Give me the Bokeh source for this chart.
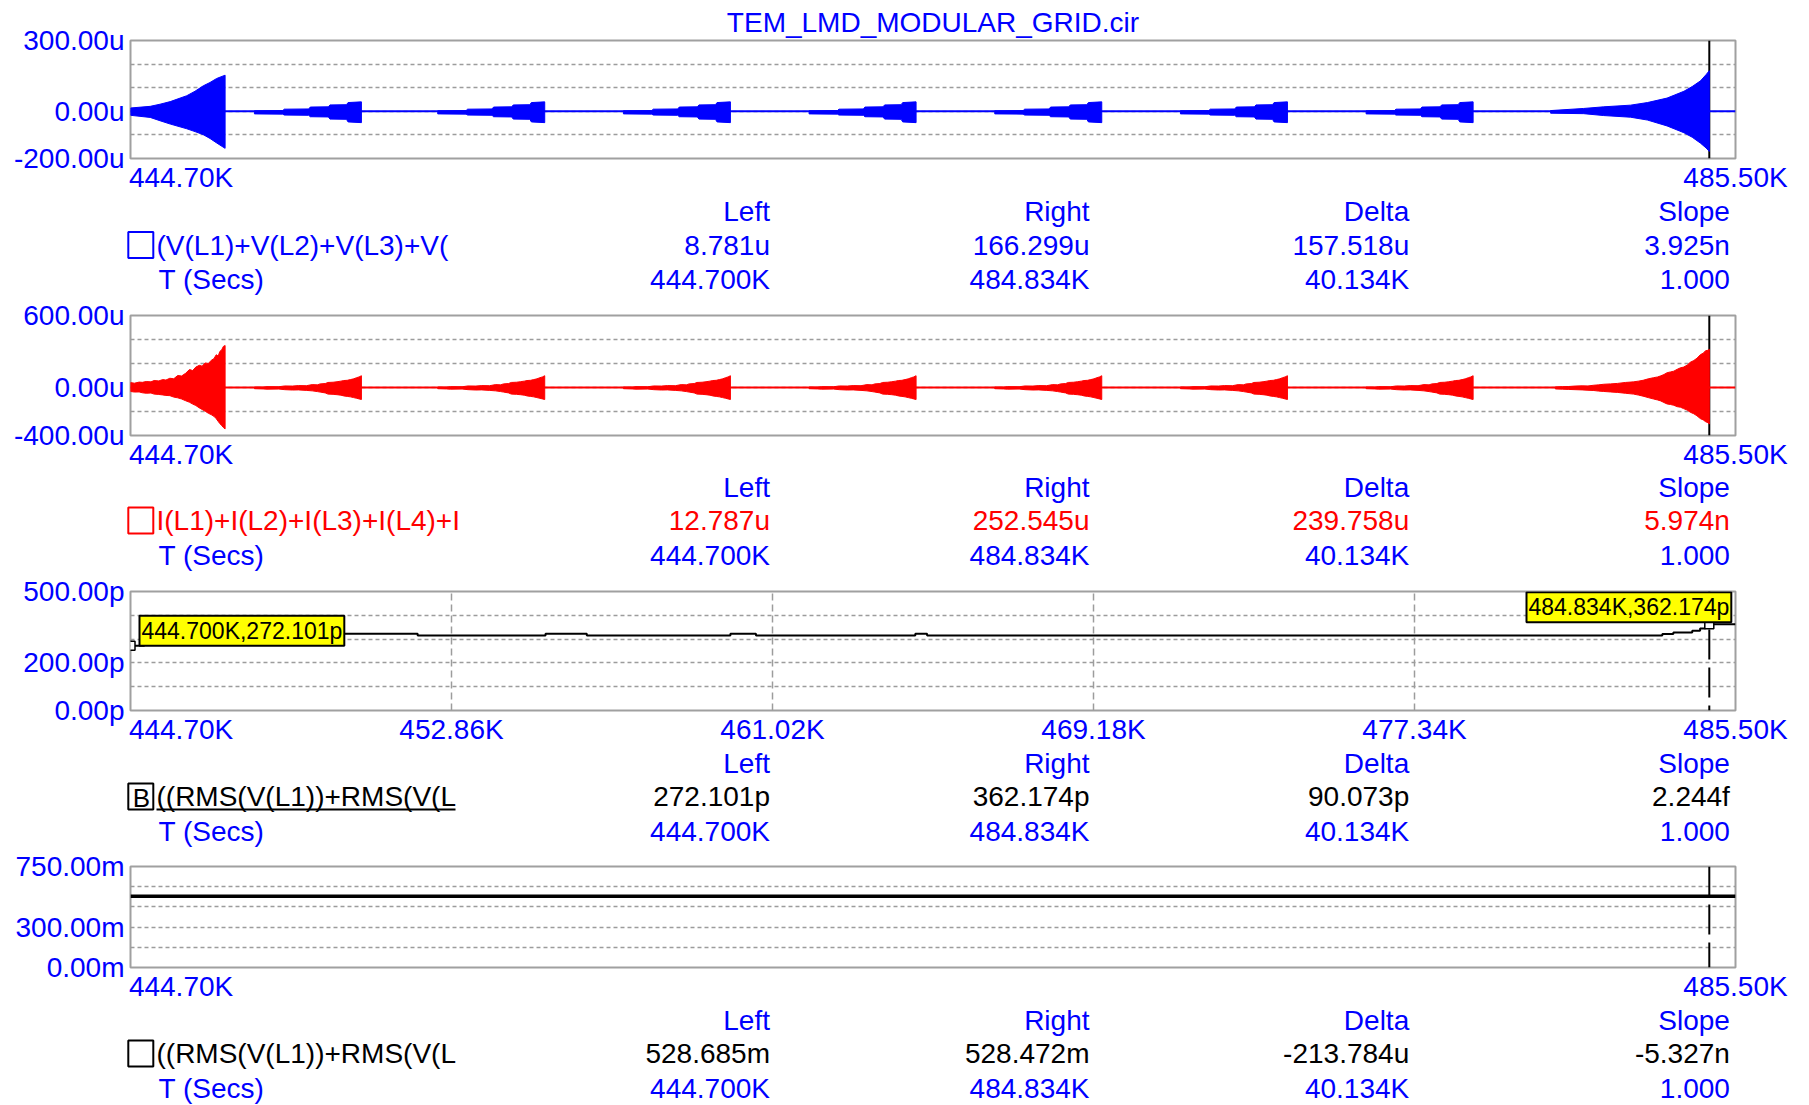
from bokeh.plotting import figure
from bokeh.layouts import column
from bokeh.models import (Range1d, FixedTicker, PrintfTickFormatter,
                          CustomJSTickFormatter, Span, Label)
from bokeh.core.properties import value
from bokeh.embed import file_html
from bokeh.resources import INLINE

FONT = "Liberation Sans"
BLUE = "#0000FF"
RED = "#FF0000"
BLACK = "#000000"
FRAME = "#A0A0A0"
GRID = "#9C9C9C"

# ---------------- time axis (K) ----------------
T_START = 444.70
T_END = 485.50
CURSOR_RIGHT = 484.834
X_TICKS = [444.70, 485.50]
X_TICKS_FULL = [444.70, 452.86, 461.02, 469.18, 477.34, 485.50]
X_GRID_FULL = [452.86, 461.02, 469.18, 477.34]

# end times of the small repeated bursts (both oscillating traces)
BURST_ENDS = [450.57, 455.23, 459.95, 464.67, 469.39, 474.11, 478.83]

# ---------------- panel 1: V(L1)+V(L2)+... envelope (u) ----------------
V_BASE_T = [T_START, T_END]
V_BASE = [0.0, 0.0]
V_FIRST_T = [444.70, 445.20, 445.45, 445.71, 446.13, 446.34, 446.55, 446.72, 446.89, 447.105]
V_FIRST_UP = [14, 21, 30, 41, 66, 85, 108, 122, 139, 153]
V_FIRST_DN = [-17, -26, -40, -54, -74, -86, -99, -115, -134, -157]
# staircase of each small burst: offsets before the burst end, levels per step
V_STEP_DT = [-2.72, -1.96, -1.30, -0.80, -0.34, 0.0]
V_STEP_UP = [2, 9, 18, 27, 37]
V_STEP_DN = [-11, -16, -23, -33, -45]
V_LAST_T = [480.80, 481.64, 482.15, 482.83, 483.26, 483.76, 484.19, 484.40, 484.61, 484.75, 484.834]
V_LAST_UP = [3, 12, 19, 26, 37, 56, 85, 105, 129, 155, 172]
V_LAST_DN = [-8, -10, -18, -25, -37, -62, -91, -110, -135, -155, -170]

# ---------------- panel 2: I(L1)+I(L2)+... envelope (u) ----------------
I_BASE_T = [T_START, T_END]
I_BASE = [0.0, 0.0]
I_FIRST_T = [444.70, 444.80, 444.92, 445.00, 445.10, 445.22, 445.30, 445.42, 445.52, 445.60,
             445.70, 445.80, 445.90, 446.00, 446.10, 446.20, 446.28, 446.36, 446.45, 446.52,
             446.60, 446.68, 446.75, 446.82, 446.88, 446.93, 446.97, 447.02, 447.06, 447.105]
I_FIRST_UP = [41, 36, 45, 43, 50, 47, 58, 55, 66, 62, 77, 73, 100, 96, 118, 150, 141, 170, 185, 178,
              205, 200, 226, 240, 273, 262, 300, 315, 342, 350]
I_FIRST_DN = [-33, -38, -37, -44, -48, -46, -55, -58, -62, -66, -68, -80, -86, -96, -110, -123, -138, -150, -170, -183,
              -198, -215, -226, -240, -260, -283, -300, -318, -333, -345]
I_SMALL_DT = [-2.72, -2.50, -2.40, -2.10, -1.95, -1.75, -1.60, -1.40, -1.25, -1.12, -1.05, -0.92,
              -0.85, -0.72, -0.62, -0.52, -0.45, -0.36, -0.28, -0.20, -0.12, -0.06, 0.0]
I_SMALL_UP = [4, 3, 7, 6, 13, 12, 16, 15, 24, 22, 30, 33, 42, 44, 48, 53, 58, 60, 66, 72, 82, 88, 98]
I_SMALL_DN = [-10, -12, -14, -13, -18, -21, -20, -24, -28, -34, -38, -45, -55, -57, -60, -64, -70, -74, -78, -84, -90, -95, -100]
I_LAST_T = [480.92, 481.10, 481.25, 481.42, 481.60, 481.75, 481.90, 482.02, 482.15, 482.32, 482.50,
            482.70, 482.91, 483.03, 483.15, 483.28, 483.42, 483.52, 483.60, 483.68, 483.76, 483.85,
            483.93, 484.02, 484.10, 484.18, 484.27, 484.35, 484.44, 484.52, 484.61, 484.68, 484.74,
            484.80, 484.834]
I_LAST_UP = [5, 7, 8, 12, 14, 13, 19, 22, 27, 30, 34, 42, 47, 53, 60, 72, 82, 88, 97, 108, 123, 130,
             136, 152, 164, 170, 186, 210, 225, 244, 274, 286, 307, 310, 318]
I_LAST_DN = [-12, -14, -16, -18, -20, -23, -25, -30, -33, -37, -41, -48, -55, -63, -72, -84, -96, -104, -112, -125,
             -137, -142, -148, -160, -164, -176, -188, -206, -219, -236, -260, -270, -285, -293, -305]

# ---------------- panel 3: RMS sum (p) ----------------
RMS_T = [444.70, 445.05, 445.90, 452.00, 455.25, 456.30, 459.95, 460.60, 464.65, 464.95,
         483.64, 483.92, 484.40, 484.60, 484.73, 484.834, 485.50]
RMS_P = [272.101, 296, 322, 315, 322, 315, 322, 315, 322, 315,
         321, 328, 335, 345, 356, 362.174, 362.174]
RMS_CURSOR_T = [444.700, 484.834]
RMS_CURSOR_P = [272.101, 362.174]

# ---------------- panel 4: RMS sum (m) ----------------
SUM_T = [444.700, 484.834, 485.50]
SUM_M = [528.685, 528.472, 528.472]

# ---------------- readouts ----------------
HEADERS = ["Left", "Right", "Delta", "Slope"]
ROW_NAMES = ["(V(L1)+V(L2)+V(L3)+V(", "I(L1)+I(L2)+I(L3)+I(L4)+I",
             "((RMS(V(L1))+RMS(V(L", "((RMS(V(L1))+RMS(V(L"]
ROW_VALUES = [["8.781u", "166.299u", "157.518u", "3.925n"],
              ["12.787u", "252.545u", "239.758u", "5.974n"],
              ["272.101p", "362.174p", "90.073p", "2.244f"],
              ["528.685m", "528.472m", "-213.784u", "-5.327n"]]
T_VALUES = ["444.700K", "484.834K", "40.134K", "1.000"]

W = 1809
LEFT = 130
RIGHT_BORDER = 74
COL_X = [769.5, 1089.0, 1408.7, 1729.4]

X_FMT = """
const s = tick.toFixed(2) + 'K';
return tick < 445 ? '\\u00a0'.repeat(13) + s : s;
"""


def envelope_patch(t, up, dn):
    return list(t) + list(t)[::-1], list(up) + list(dn)[::-1]


def stair_patch(t_end, dt, up, dn):
    # each step rises over a short slope, as the oscillation builds up
    t, u, d = [], [], []
    for i in range(len(up)):
        t += [t_end + dt[i], t_end + dt[i + 1] - (0.04 if i + 1 < len(up) else 0.0)]
        u += [up[i], up[i] + (1 if i + 1 < len(up) else 3)]
        d += [dn[i], dn[i] - (1 if i + 1 < len(up) else 3)]
    return envelope_patch(t, u, d)


def offset_patch(t_end, dt, up, dn):
    return envelope_patch([t_end + x for x in dt], up, dn)


def make_panel(y_lo, y_hi, y_ticks, y_grid, suffix, frame_h, top, x_ticks,
               x_grid=None, cursor_dash="solid", title=None):
    bottom = 37
    p = figure(width=W, height=top + frame_h + bottom,
               x_range=Range1d(T_START, T_END), y_range=Range1d(y_lo, y_hi),
               min_border_left=LEFT, min_border_right=RIGHT_BORDER,
               min_border_top=top, min_border_bottom=bottom,
               toolbar_location=None, output_backend="svg", title=title)
    p.background_fill_color = "white"
    p.border_fill_color = "white"
    p.outline_line_color = FRAME
    p.outline_line_width = 2
    if title is not None:
        p.title.align = "center"
        p.title.text_font = FONT
        p.title.text_font_size = "28px"
        p.title.text_font_style = "normal"
        p.title.text_color = BLUE
        p.title.standoff = 6
    for ax in (p.xaxis[0], p.yaxis[0]):
        ax.axis_line_color = None
        ax.major_tick_line_color = None
        ax.minor_tick_line_color = None
        ax.major_tick_out = 0
        ax.major_tick_in = 0
        ax.minor_tick_out = 0
        ax.minor_tick_in = 0
        ax.major_label_text_font = FONT
        ax.major_label_text_font_size = "28px"
        ax.major_label_text_color = BLUE
    p.yaxis[0].ticker = FixedTicker(ticks=y_ticks)
    p.yaxis[0].formatter = PrintfTickFormatter(format="%.2f" + suffix)
    p.yaxis[0].major_label_standoff = 6
    p.xaxis[0].ticker = FixedTicker(ticks=x_ticks)
    p.xaxis[0].formatter = CustomJSTickFormatter(code=X_FMT)
    p.xaxis[0].major_label_standoff = 3
    p.ygrid.ticker = FixedTicker(ticks=y_grid)
    p.ygrid.grid_line_color = GRID
    p.ygrid.grid_line_dash = "4 3"
    p.ygrid.grid_line_width = 1.5
    if x_grid:
        p.xgrid.ticker = FixedTicker(ticks=x_grid)
        p.xgrid.grid_line_color = GRID
        p.xgrid.grid_line_dash = "7 4"
        p.xgrid.grid_line_width = 1.5
    else:
        p.xgrid.visible = False
    p.add_layout(Span(location=CURSOR_RIGHT, dimension="height", line_color=BLACK,
                      line_width=2, line_dash=cursor_dash, level="underlay"))
    return p


def make_table(h, rows_y, idx, color, letter=None, underline_y=None):
    # readout block: its frame covers the whole strip, so data x equals page x
    p = figure(width=W, height=h, x_range=Range1d(0, W), y_range=Range1d(h, 0),
               min_border_left=0, min_border_right=0,
               min_border_top=0, min_border_bottom=0,
               toolbar_location=None, output_backend="svg",
               x_axis_location=None, y_axis_location=None)
    p.frame_align = False
    p.outline_line_color = None
    p.background_fill_color = "white"
    p.border_fill_color = "white"
    p.grid.visible = False
    common = dict(text_font=value(FONT), text_font_size="28px", text_baseline="middle")
    y0, y1, y2 = rows_y
    p.text(x=COL_X, y=[y0] * 4, text=HEADERS, text_align="right", text_color=BLUE, **common)
    p.text(x=COL_X, y=[y1] * 4, text=ROW_VALUES[idx], text_align="right", text_color=color, **common)
    p.text(x=COL_X, y=[y2] * 4, text=T_VALUES, text_align="right", text_color=BLUE, **common)
    p.text(x=[156], y=[y1], text=[ROW_NAMES[idx]], text_align="left", text_color=color, **common)
    p.text(x=[158], y=[y2], text=["T (Secs)"], text_align="left", text_color=BLUE, **common)
    # swatch box left of the trace name
    p.rect(x=[140.3], y=[y1], width=25, height=26, fill_color=None, line_color=color, line_width=2)
    if letter:
        p.text(x=[140.8], y=[y1 + 1], text=[letter], text_align="center", text_color=color,
               text_font=value(FONT), text_font_size="26px", text_baseline="middle")
    if underline_y is not None:
        p.segment(x0=[156], y0=[underline_y], x1=[455], y1=[underline_y],
                  line_color=color, line_width=2)
    return p


# ---------- panel 1 ----------
p1 = make_panel(-200, 300, [-200, 0, 300], [-100, 0, 100, 200], "u", 118, 40, X_TICKS,
                title="TEM_LMD_MODULAR_GRID.cir")
xs, ys = [], []
for patch in ([envelope_patch(V_FIRST_T, V_FIRST_UP, V_FIRST_DN)]
              + [stair_patch(te, V_STEP_DT, V_STEP_UP, V_STEP_DN) for te in BURST_ENDS]
              + [envelope_patch(V_LAST_T, V_LAST_UP, V_LAST_DN)]):
    xs.append(patch[0])
    ys.append(patch[1])
p1.line(V_BASE_T, V_BASE, line_color=BLUE, line_width=2)
p1.patches(xs, ys, fill_color=BLUE, line_color=BLUE, line_width=1)

t1 = make_table(102, (16, 49.6, 84), 0, BLUE)

# ---------- panel 2 ----------
p2 = make_panel(-400, 600, [-400, 0, 600], [-200, 0, 200, 400], "u", 120, 18, X_TICKS)
xs, ys = [], []
for patch in ([envelope_patch(I_FIRST_T, I_FIRST_UP, I_FIRST_DN)]
              + [offset_patch(te, I_SMALL_DT, I_SMALL_UP, I_SMALL_DN) for te in BURST_ENDS]
              + [envelope_patch(I_LAST_T, I_LAST_UP, I_LAST_DN)]):
    xs.append(patch[0])
    ys.append(patch[1])
p2.line(I_BASE_T, I_BASE, line_color=RED, line_width=2)
p2.patches(xs, ys, fill_color=RED, line_color=RED, line_width=1)

t2 = make_table(101, (15, 48, 83), 1, RED)

# ---------- panel 3 ----------
p3 = make_panel(0, 500, [0, 200, 500], [100, 200, 300, 400], "p", 119, 18, X_TICKS_FULL,
                x_grid=X_GRID_FULL, cursor_dash="30 8")
p3.step(RMS_T, RMS_P, mode="after", line_color=BLACK, line_width=2)
p3.scatter(RMS_CURSOR_T, RMS_CURSOR_P, marker="square", size=9,
           fill_color="white", line_color=BLACK, line_width=1.5)
lbl_style = dict(text_font=FONT, text_font_size="23px", text_color=BLACK,
                 background_fill_color="#FFFF00", border_line_color=BLACK,
                 border_line_width=2, padding=2, text_baseline="middle")
p3.add_layout(Label(x=RMS_CURSOR_T[0], y=RMS_CURSOR_P[0],
                    text="%.3fK,%.3fp" % (RMS_CURSOR_T[0], RMS_CURSOR_P[0]),
                    text_align="left", x_offset=9, y_offset=15, **lbl_style))
p3.add_layout(Label(x=RMS_CURSOR_T[1], y=RMS_CURSOR_P[1],
                    text="%.3fK,%.3fp" % (RMS_CURSOR_T[1], RMS_CURSOR_P[1]),
                    text_align="right", x_offset=22, y_offset=17, **lbl_style))

t3 = make_table(101, (15.6, 49, 83.7), 2, BLACK, letter="B", underline_y=62)

# ---------- panel 4 ----------
p4 = make_panel(0, 750, [0, 300, 750], [150, 300, 450, 600], "m", 101, 18, X_TICKS,
                cursor_dash="30 8")
p4.line(SUM_T, SUM_M, line_color=BLACK, line_width=3.5)

t4 = make_table(101, (16, 49, 84), 3, BLACK)

layout = column(p1, t1, p2, t2, p3, t3, p4, t4, spacing=0)
open("out.html", "w").write(file_html(layout, INLINE))
